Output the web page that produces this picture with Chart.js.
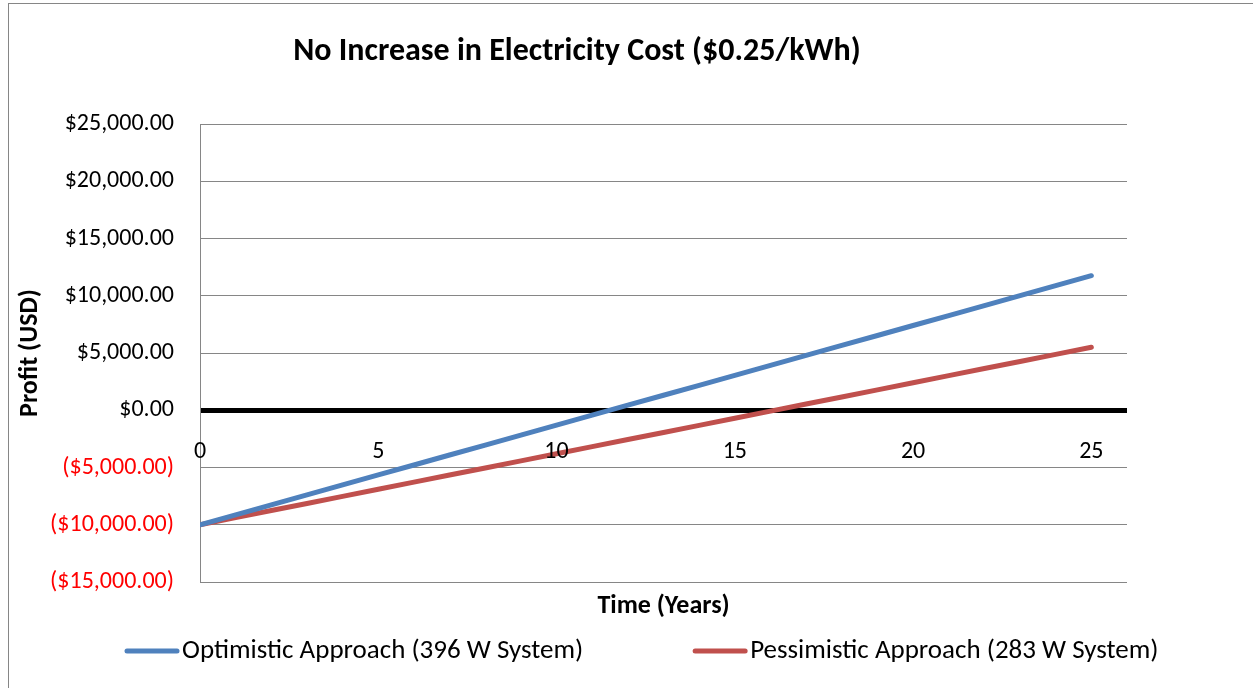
<!DOCTYPE html>
<html>
<head>
<meta charset="utf-8">
<script src="https://cdn.jsdelivr.net/npm/chart.js@4/dist/chart.umd.min.js"></script>
<style>
  html, body { margin: 0; padding: 0; background: #fff; }
  #wrap { position: relative; width: 1253px; height: 688px; overflow: hidden; }
  #frame { position: absolute; left: 8px; top: 3px; width: 1260px; height: 700px; border: 1px solid #868686; }
  #chart { position: absolute; left: 0; top: 0; }
</style>
</head>
<body>
<div id="wrap">
  <div id="frame"></div>
  <canvas id="chart" width="1253" height="688"></canvas>
</div>
<script>
// years
var years = [0,1,2,3,4,5,6,7,8,9,10,11,12,13,14,15,16,17,18,19,20,21,22,23,24,25]

// cumulative profit, optimistic approach (396 W)
var optimistic = [-10000,-9130,-8260,-7390,-6520,-5650,-4780,-3910,-3040,-2170,-1300,-430,440,1310,2180,3050,3920,4790,5660,6530,7400,8270,9140,10010,10880,11750]

// cumulative profit, pessimistic approach (283 W)
var pessimistic = [-10000,-9380,-8760,-8140,-7520,-6900,-6280,-5660,-5040,-4420,-3800,-3180,-2560,-1940,-1320,-700,-80,540,1160,1780,2400,3020,3640,4260,4880,5500]

var xTickLabels = [0, 5, 10, 15, 20, 25]
var seriesNames = ["Optimistic Approach (396 W System)", "Pessimistic Approach (283 W System)"]
var chartTitle = "No Increase in Electricity Cost ($0.25/kWh)"

var FONT = "Carlito, Calibri, Lato, 'Liberation Sans', sans-serif"

function toPoints(ys) {
  return years.map(function(x, i) { return { x: x, y: ys[i] } })
}

function money(v) {
  var s = Math.abs(v).toLocaleString('en-US', { minimumFractionDigits: 2, maximumFractionDigits: 2 })
  return v < 0 ? '($' + s + ')' : '$' + s
}

// title, x tick labels on the zero line, and the legend row
var extras = {
  id: 'extras',
  afterDraw: function(chart) {
    var ctx = chart.ctx
    var xs = chart.scales.x
    var ys = chart.scales.y
    ctx.save()
    ctx.fillStyle = '#000'
    ctx.textBaseline = 'middle'

    ctx.font = 'bold 32px ' + FONT
    ctx.textAlign = 'center'
    ctx.fillText(chartTitle, 577, 52)

    ctx.font = '24px ' + FONT
    var zeroY = ys.getPixelForValue(0)
    xTickLabels.forEach(function(t) {
      ctx.fillText(String(t), xs.getPixelForValue(t), zeroY + 42)
    })

    // legend
    ctx.font = '27px ' + FONT
    ctx.textAlign = 'left'
    ctx.lineCap = 'round'
    ctx.lineWidth = 5
    var lx = 127, ly = 651
    chart.data.datasets.forEach(function(ds) {
      ctx.strokeStyle = ds.borderColor
      ctx.beginPath()
      ctx.moveTo(lx, ly)
      ctx.lineTo(lx + 50, ly)
      ctx.stroke()
      ctx.fillStyle = '#000'
      ctx.fillText(ds.label, lx + 55, ly)
      lx += 55 + ctx.measureText(ds.label).width + 112
    })
    ctx.restore()
  }
}

const data = {
  datasets: [{
    label: seriesNames[0],
    data: toPoints(optimistic),
    borderColor: '#4F81BD',
    backgroundColor: '#4F81BD',
    borderWidth: 5,
    borderCapStyle: 'round',
    pointRadius: 0
  }, {
    label: seriesNames[1],
    data: toPoints(pessimistic),
    borderColor: '#C0504D',
    backgroundColor: '#C0504D',
    borderWidth: 5,
    borderCapStyle: 'round',
    pointRadius: 0
  }]
}

const config = {
  type: 'line',
  data,
  plugins: [extras],
  options: {
    responsive: false,
    animation: false,
    layout: { padding: { left: 15, top: 124, right: 126, bottom: 66 } },
    plugins: {
      title: { display: false },
      tooltip: { enabled: false },
      legend: { display: false }
    },
    scales: {
      x: {
        type: 'linear',
        min: 0,
        max: 26,
        grid: { display: false },
        border: { display: false },
        ticks: { display: false },
        title: {
          display: true,
          text: 'Time (Years)',
          font: { family: FONT, size: 26, weight: 'bold' },
          color: '#000',
          padding: { top: 0, bottom: 0 }
        },
        afterFit: function(scale) { scale.height = 40 }
      },
      y: {
        min: -15000,
        max: 25000,
        grid: {
          drawTicks: false,
          color: function(c) { return c.tick && c.tick.value === 0 ? '#000' : '#868686' },
          lineWidth: function(c) { return c.tick && c.tick.value === 0 ? 5 : 1 }
        },
        border: { display: true, color: '#868686', width: 1 },
        ticks: {
          stepSize: 5000,
          padding: 26,
          font: { family: FONT, size: 24 },
          color: function(c) { return c.tick.value < 0 ? '#FF0000' : '#000' },
          callback: function(v) { return money(v) }
        },
        title: {
          display: true,
          text: 'Profit (USD)',
          font: { family: FONT, size: 26, weight: 'bold' },
          color: '#000',
          padding: { top: 0, bottom: 6 }
        },
        afterFit: function(scale) { scale.width = 185 }
      }
    }
  }
}

const myChart = new Chart(document.getElementById('chart'), config)
</script>
</body>
</html>
